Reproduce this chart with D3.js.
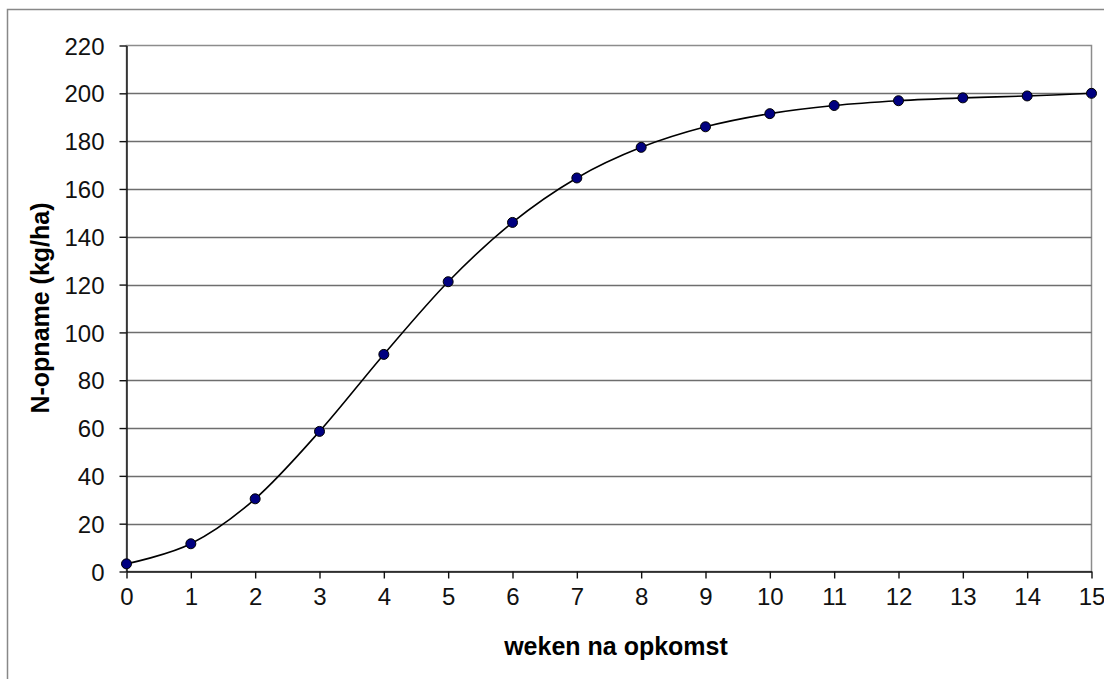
<!DOCTYPE html>
<html><head><meta charset="utf-8">
<script src="https://cdn.jsdelivr.net/npm/d3@7"></script>
<style>body{margin:0;background:#fff}svg{display:block}text{font-family:"Liberation Sans",Arial,sans-serif}</style>
</head><body><svg id="c" width="1104" height="679"></svg>
<script>
const weeks = [0,1,2,3,4,5,6,7,8,9,10,11,12,13,14,15];
const uptake = [3.2,11.6,30.4,58.6,90.8,121.2,146,164.6,177.4,186,191.5,194.9,196.9,198.1,198.9,200];
const yTicks = [0,20,40,60,80,100,120,140,160,180,200,220];
const xTicks = weeks;
const xTitle = "weken na opkomst";
const yTitle = "N-opname (kg/ha)";

const svg = d3.select("#c");
const L = 126.5, R = 1091.5, T = 45.5, B = 571.5;
const x = d3.scaleLinear().domain([0,15]).range([L,R]);
const y = d3.scaleLinear().domain([0,220]).range([B,T]);

svg.append("rect").attr("x",7.5).attr("y",9.5).attr("width",1110).attr("height",690)
  .attr("fill","none").attr("stroke","#888").attr("stroke-width",1.5);

svg.append("rect").attr("x",L).attr("y",T).attr("width",R-L).attr("height",B-T)
  .attr("fill","none").attr("stroke","#8c8c8c").attr("stroke-width",1.5);

svg.append("g").selectAll("line").data(yTicks.filter(d=>d>0 && d<220)).join("line")
  .attr("x1",L).attr("x2",R).attr("y1",d=>Math.round(y(d))+0.5).attr("y2",d=>Math.round(y(d))+0.5)
  .attr("stroke","#6e6e6e").attr("stroke-width",1.4);

const ya = svg.append("g").attr("transform",`translate(${L},0)`)
  .call(d3.axisLeft(y).tickValues(yTicks).tickSize(7).tickPadding(15).tickSizeOuter(0));
ya.select(".domain").attr("stroke","#111").attr("stroke-width",1.4);
ya.selectAll(".tick line").attr("stroke","#111").attr("stroke-width",1.4);
ya.selectAll(".tick text").attr("font-size",24).attr("fill","#111").attr("dy","0.36em")
  .style("font-family","'Liberation Sans',Arial,sans-serif");

const xa = svg.append("g").attr("transform",`translate(0,${B})`)
  .call(d3.axisBottom(x).tickValues(xTicks).tickSize(7).tickPadding(9).tickSizeOuter(0));
xa.select(".domain").attr("stroke","#111").attr("stroke-width",1.4);
xa.selectAll(".tick line").attr("stroke","#111").attr("stroke-width",1.4);
xa.selectAll(".tick text").attr("font-size",24).attr("fill","#111")
  .style("font-family","'Liberation Sans',Arial,sans-serif");

const line = d3.line().x((d,i)=>x(weeks[i])).y(d=>y(d)).curve(d3.curveCatmullRom.alpha(0));
svg.append("path").datum(uptake).attr("d",line).attr("fill","none").attr("stroke","#000").attr("stroke-width",1.6);

svg.append("g").selectAll("circle").data(uptake).join("circle")
  .attr("cx",(d,i)=>x(weeks[i])).attr("cy",d=>y(d)).attr("r",5)
  .attr("fill","#000080").attr("stroke","#000").attr("stroke-width",1);

svg.append("text").attr("x",616).attr("y",655).attr("text-anchor","middle")
  .attr("font-size",25).attr("font-weight","bold").attr("fill","#000").text(xTitle);
svg.append("text").attr("transform","translate(49,308) rotate(-90)").attr("text-anchor","middle")
  .attr("font-size",25).attr("font-weight","bold").attr("fill","#000").text(yTitle);
</script></body></html>
